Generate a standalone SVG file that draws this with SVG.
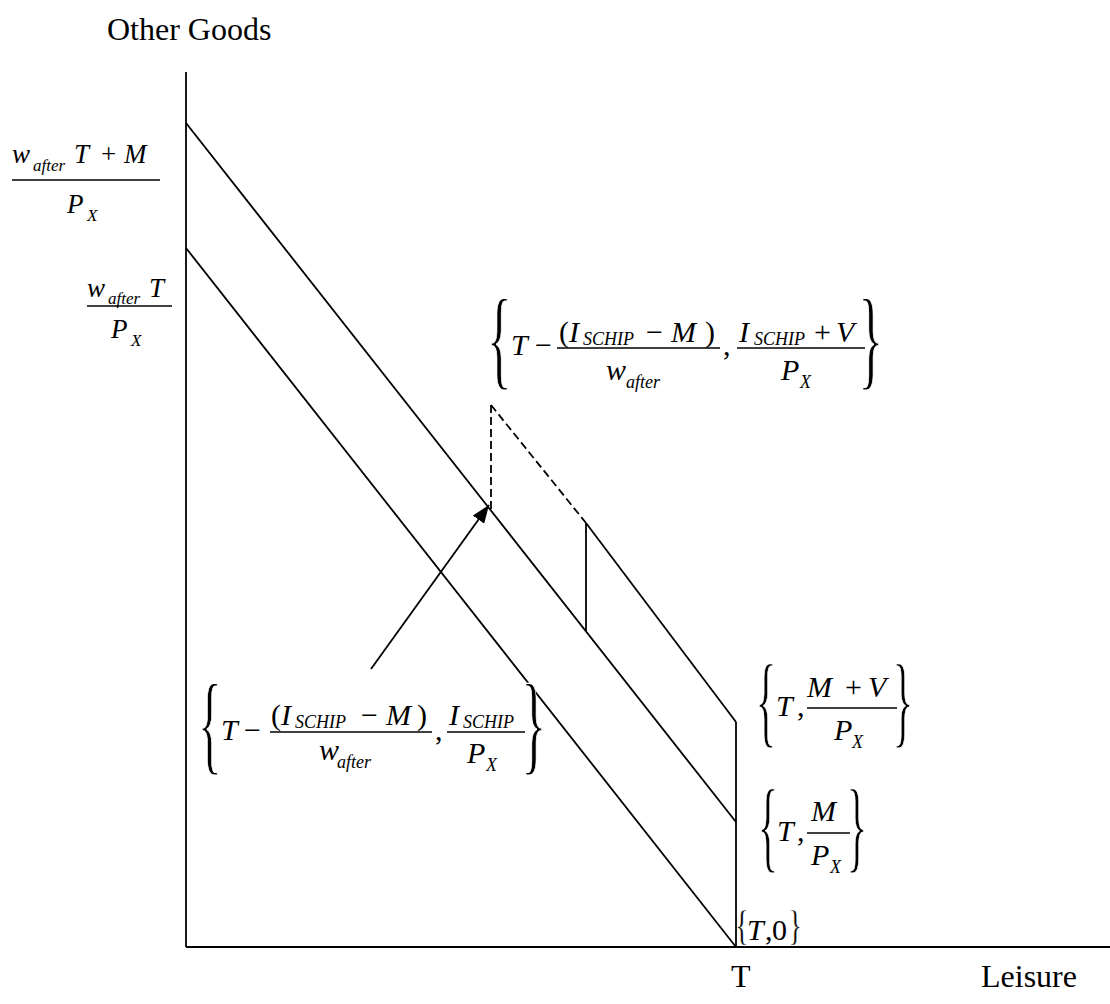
<svg xmlns="http://www.w3.org/2000/svg" width="1110" height="1004" viewBox="0 0 1110 1004" font-family="'Liberation Serif', 'Times New Roman', 'DejaVu Serif', serif">
<style>
text{fill:#000;font-family:'Liberation Serif','Times New Roman','DejaVu Serif',serif}
.t{font-size:32px}
.m{font-size:30px;font-style:italic}
.mu{font-size:30px}
.s{font-size:18px;font-style:italic}
.m2{font-size:27px;font-style:italic}
.mu2{font-size:27px}
.s2{font-size:17px;font-style:italic}
.br{stroke:#fff;stroke-width:1.2}
.brs{stroke:#fff;stroke-width:0.4}
.ln{stroke:#000;stroke-width:1.8;fill:none}
.dash{stroke:#000;stroke-width:1.8;fill:none;stroke-dasharray:8 4}
.bar{stroke:#000;stroke-width:1.3}
</style>
<defs>
<marker id="ah" markerUnits="userSpaceOnUse" markerWidth="20" markerHeight="14" refX="18" refY="7" orient="auto">
<path d="M0,0 L18,7 L0,14 Z" fill="#000"/>
</marker>
</defs>
<rect width="1110" height="1004" fill="#fff"/>

<g id="axes">
<line class="ln" x1="186" y1="72" x2="186" y2="947"/>
<line class="ln" x1="186" y1="947" x2="1110" y2="947"/>
<text class="t" x="107" y="40">Other Goods</text>
<text class="t" x="731" y="987">T</text>
<text class="t" x="981" y="987">Leisure</text>
</g>

<g id="connectors">
<line class="ln" x1="186" y1="248" x2="736" y2="947"/>
<line class="ln" x1="186" y1="123" x2="736" y2="822"/>
<line class="ln" x1="736" y1="722" x2="736" y2="947"/>
<line class="ln" x1="586" y1="523" x2="736" y2="722"/>
<line class="ln" x1="586" y1="523" x2="586" y2="631"/>
<line class="dash" x1="491" y1="405" x2="491" y2="510"/>
<line class="dash" x1="491" y1="405" x2="586" y2="523"/>
<line class="ln" x1="371" y1="669" x2="489" y2="505" marker-end="url(#ah)"/>
</g>

<g id="label-intercept-high">
<text class="m2" x="12" y="163">w</text>
<text class="s2" x="33" y="171">after</text>
<text class="m2" x="74" y="163">T</text>
<text class="mu2" x="101" y="163">+</text>
<text class="m2" x="124" y="163">M</text>
<line class="bar" x1="12" y1="180" x2="160" y2="180"/>
<text class="m2" x="67" y="213">P</text>
<text class="s2" x="87" y="221">X</text>
</g>

<g id="label-intercept-low">
<text class="m2" x="87" y="297">w</text>
<text class="s2" x="108" y="304">after</text>
<text class="m2" x="149" y="297">T</text>
<line class="bar" x1="87" y1="306" x2="172" y2="306"/>
<text class="m2" x="111" y="338">P</text>
<text class="s2" x="131" y="346">X</text>
</g>

<g id="label-top-point">
<text class="br" transform="translate(486.8,375.4) scale(0.47,1)" style="font-size:111px">{</text>
<text class="m" x="511" y="355">T</text>
<text class="mu" x="535" y="355">−</text>
<line class="bar" x1="557" y1="348" x2="720" y2="348"/>
<text class="mu" x="559" y="342">(</text>
<text class="m" x="569" y="342">I</text>
<text class="s" x="583" y="345">SCHIP</text>
<text class="mu" x="646" y="342">−</text>
<text class="m" x="671" y="342">M</text>
<text class="mu" x="705" y="342">)</text>
<text class="m" x="606" y="380">w</text>
<text class="s" x="626" y="388">after</text>
<text class="mu" x="723" y="355">,</text>
<line class="bar" x1="737" y1="348" x2="865" y2="348"/>
<text class="m" x="739" y="342">I</text>
<text class="s" x="754" y="345">SCHIP</text>
<text class="mu" x="814" y="342">+</text>
<text class="m" x="836" y="342">V</text>
<text class="m" x="781" y="380">P</text>
<text class="s" x="800" y="388">X</text>
<text class="br" transform="translate(858.2,375.4) scale(0.47,1)" style="font-size:111px">}</text>
</g>

<g id="label-lower-point">
<text class="br" transform="translate(197.8,760.4) scale(0.45,1)" style="font-size:111px">{</text>
<text class="m" x="221" y="740">T</text>
<text class="mu" x="244" y="740">−</text>
<line class="bar" x1="270" y1="732" x2="432" y2="732"/>
<text class="mu" x="271" y="725">(</text>
<text class="m" x="281" y="725">I</text>
<text class="s" x="295" y="728">SCHIP</text>
<text class="mu" x="361" y="725">−</text>
<text class="m" x="386" y="725">M</text>
<text class="mu" x="417" y="725">)</text>
<text class="m" x="319" y="760">w</text>
<text class="s" x="337" y="768">after</text>
<text class="mu" x="435" y="740">,</text>
<line class="bar" x1="447" y1="732" x2="525" y2="732"/>
<text class="m" x="449" y="725">I</text>
<text class="s" x="463" y="728">SCHIP</text>
<text class="m" x="467" y="763">P</text>
<text class="s" x="486" y="771">X</text>
<text class="br" transform="translate(521.2,760.4) scale(0.47,1)" style="font-size:111px">}</text>
</g>

<g id="label-T-MV">
<text class="br" transform="translate(755.6,734) scale(0.43,1)" style="font-size:102px">{</text>
<text class="m" x="776" y="716">T</text>
<text class="mu" x="797" y="716">,</text>
<line class="bar" x1="807" y1="708" x2="897" y2="708"/>
<text class="m" x="807" y="697">M</text>
<text class="mu" x="845" y="697">+</text>
<text class="m" x="868" y="697">V</text>
<text class="m" x="834" y="740">P</text>
<text class="s" x="852" y="748">X</text>
<text class="br" transform="translate(892.3,734) scale(0.43,1)" style="font-size:102px">}</text>
</g>

<g id="label-T-M">
<text class="br" transform="translate(757.6,859) scale(0.43,1)" style="font-size:102px">{</text>
<text class="m" x="777" y="841">T</text>
<text class="mu" x="797" y="841">,</text>
<line class="bar" x1="807" y1="833" x2="850" y2="833"/>
<text class="m" x="811" y="821">M</text>
<text class="m" x="811" y="865">P</text>
<text class="s" x="830" y="873">X</text>
<text class="br" transform="translate(846.3,859) scale(0.43,1)" style="font-size:102px">}</text>
</g>

<g id="label-T-0">
<text class="brs" transform="translate(735.2,939.4) scale(0.65,1)" style="font-size:43px">{</text>
<text class="m" x="747" y="940">T</text>
<text class="mu" x="765" y="940">,</text>
<text class="mu" x="772" y="940">0</text>
<text class="brs" transform="translate(788.4,939.4) scale(0.65,1)" style="font-size:43px">}</text>
</g>
</svg>
